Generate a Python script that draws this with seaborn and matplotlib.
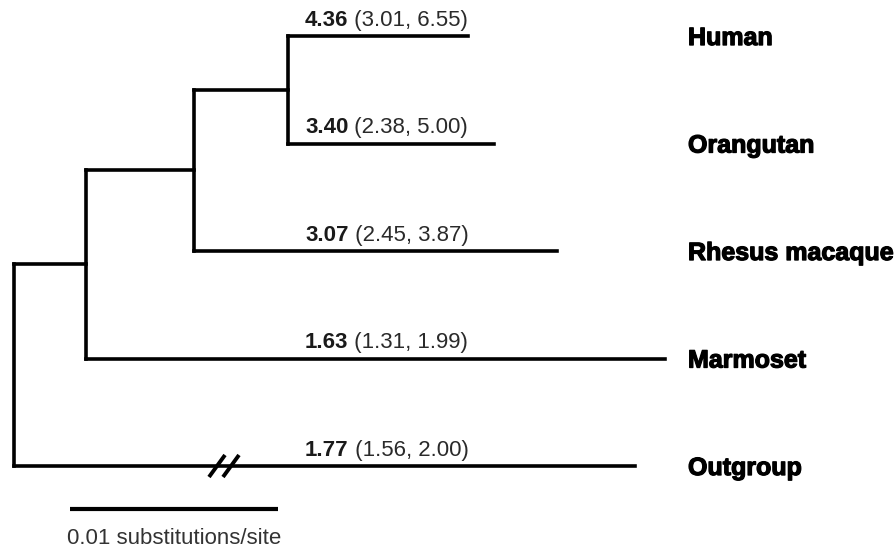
import matplotlib
matplotlib.use("Agg")
import matplotlib.pyplot as plt
import matplotlib.patheffects as pe
import seaborn as sns
import pandas as pd
import numpy as np

sns.set_theme(style="white")
plt.rcParams['font.family'] = ['Liberation Sans', 'DejaVu Sans']

# ---- data ----
taxa = ["Human", "Orangutan", "Rhesus macaque", "Marmoset", "Outgroup"]
rates = ["4.36", "3.40", "3.07", "1.63", "1.77"]
ci_low = ["3.01", "2.38", "2.45", "1.31", "1.56"]
ci_high = ["6.55", "5.00", "3.87", "1.99", "2.00"]

# tree edges: child, parent, branch length (substitutions/site)
edge_child = ["A", "B", "C", "Human", "Orangutan", "Rhesus macaque", "Marmoset", "Outgroup"]
edge_parent = ["root", "A", "B", "C", "C", "B", "A", "root"]
edge_length = [0.00346, 0.00519, 0.00452, 0.00865, 0.00990, 0.01745, 0.02784, 0.02986]
broken_branch = "Outgroup"
scale_length = 0.01
scale_label = "0.01 substitutions/site"

# ---- compute layout ----
parent_of = dict(zip(edge_child, edge_parent))
length_of = dict(zip(edge_child, edge_length))
children = {}
for c, p in zip(edge_child, edge_parent):
    children.setdefault(p, []).append(c)

depth = {"root": 0.0}
def get_depth(n):
    if n not in depth:
        depth[n] = get_depth(parent_of[n]) + length_of[n]
    return depth[n]
for n in edge_child:
    get_depth(n)

ypos = {t: i for i, t in enumerate(taxa)}
def get_y(n):
    if n not in ypos:
        ys = [get_y(c) for c in children[n]]
        ypos[n] = float(np.mean(ys))
    return ypos[n]
get_y("root")

rows = []
seg = 0
for c in edge_child:
    p = parent_of[c]
    rows.append(dict(x=depth[p], y=ypos[c], seg=seg)); rows.append(dict(x=depth[c], y=ypos[c], seg=seg)); seg += 1
for p, ch in children.items():
    ys = [ypos[c] for c in ch]
    rows.append(dict(x=depth[p], y=min(ys), seg=seg)); rows.append(dict(x=depth[p], y=max(ys), seg=seg)); seg += 1
df = pd.DataFrame(rows)

# ---- figure ----
fig = plt.figure(figsize=(8.96, 5.52), dpi=100)
ax = fig.add_axes([0, 0, 1, 1])
px = 20800.0  # pixels per unit
yp = 107.5    # pixels per leaf
ax.set_xlim(-14 / px, (896 - 14) / px)
ax.set_ylim((552 - 36) / yp, -36 / yp)
ax.axis("off")

sns.lineplot(data=df, x="x", y="y", units="seg", estimator=None, sort=False,
             color="black", linewidth=2.6, legend=False, ax=ax,
             solid_capstyle="projecting")

# break marks
bx = (217 - 14) / px
by = ypos[broken_branch]
for off in (0, 14 / px):
    ax.plot([bx + off - 8 / px, bx + off + 8 / px], [by + 11 / yp, by - 11 / yp],
            color="black", lw=2.8, solid_capstyle="butt")

# rate annotations
ann_x = (305 - 14) / px
for t, r, lo, hi in zip(taxa, rates, ci_low, ci_high):
    bt = ax.annotate(r, xy=(ann_x, ypos[t]), xytext=(0, 7.5), textcoords="offset points",
                     fontsize=16, fontweight="bold", color="#1a1a1a", va="baseline", ha="left")
    ax.annotate(" (%s, %s)" % (lo, hi), xy=(1, 0), xycoords=bt, fontsize=16,
                color="#2a2a2a", va="bottom", ha="left")

# taxon labels
lab_x = (688 - 14) / px
for t in taxa:
    ax.annotate(t, xy=(lab_x, ypos[t]), xytext=(0, -6.5), textcoords="offset points",
                fontsize=18, fontweight="bold", color="black", va="baseline", ha="left",
                path_effects=[pe.withStroke(linewidth=0.9, foreground="black")])

# scale bar
sx0 = (70 - 14) / px
sy = (509 - 36) / yp
sdf = pd.DataFrame(dict(x=[sx0, sx0 + scale_length], y=[sy, sy]))
sns.lineplot(data=sdf, x="x", y="y", estimator=None, sort=False, color="black",
             linewidth=3.0, legend=False, ax=ax, solid_capstyle="butt")
ax.text(sx0 + scale_length / 2, (538 - 36) / yp, scale_label, fontsize=16,
        color="#333333", ha="center", va="center")

fig.savefig("out.png", dpi=100, facecolor="white")
